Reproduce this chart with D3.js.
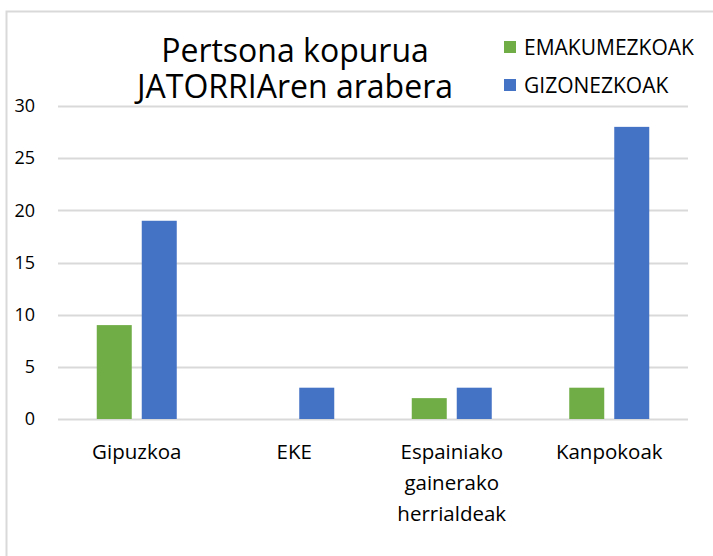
<!DOCTYPE html>
<html>
<head>
<meta charset="utf-8">
<script src="https://cdn.jsdelivr.net/npm/d3@7"></script>
<style>
  body { margin: 0; background: #fff; }
  svg text { font-family: "Open Sans", sans-serif; fill: #000; }
</style>
</head>
<body>
<svg id="chart" width="713" height="556"></svg>
<script>
const categories = [["Gipuzkoa"], ["EKE"], ["Espainiako", "gainerako", "herrialdeak"], ["Kanpokoak"]];
const seriesNames = ["EMAKUMEZKOAK", "GIZONEZKOAK"];
const emakumezkoak = [9, 0, 2, 3];
const gizonezkoak = [19, 3, 3, 28];
const yTicks = [0, 5, 10, 15, 20, 25, 30];
const titleLines = ["Pertsona kopurua", "JATORRIAren arabera"];
const colors = ["#70ad47", "#4472c4"];

(function () {
const svg = d3.select("#chart");
svg.append("rect").attr("x", 6.5).attr("y", 11.5).attr("width", 720).attr("height", 560)
  .attr("fill", "#fff").attr("stroke", "#d9d9d9").attr("stroke-width", 2);

const pLeft = 58, pRight = 688, pTop = 106, pBottom = 419;
const catKeys = categories.map(c => c.join(" "));
const x0 = d3.scaleBand().domain(catKeys).range([pLeft, pRight]).padding(0);
const inner = 80;
const off = (x0.bandwidth() - inner) / 2;
const x1 = d3.scaleBand().domain(seriesNames).range([off, off + inner]).paddingInner(2 - inner / 45);
const y = d3.scaleLinear().domain([0, 30]).range([pBottom, pTop]);

// gridlines
svg.append("g").selectAll("line").data(yTicks).join("line")
  .attr("x1", pLeft).attr("x2", pRight)
  .attr("y1", d => Math.round(y(d)) + 0.5).attr("y2", d => Math.round(y(d)) + 0.5)
  .attr("stroke", "#d9d9d9").attr("stroke-width", 2);

// y axis labels
const yAxis = d3.axisLeft(y).tickValues(yTicks).tickSize(0).tickPadding(0);
const gy = svg.append("g").attr("transform", "translate(35,0)").call(yAxis);
gy.select(".domain").remove();
gy.selectAll("text").attr("font-size", 18).style("font-family", "'Open Sans', sans-serif").attr("fill", "#000");

// bars
const data = catKeys.map((k, i) => ({ key: k, values: [emakumezkoak[i], gizonezkoak[i]] }));
const groups = svg.append("g").selectAll("g").data(data).join("g")
  .attr("transform", d => `translate(${x0(d.key)},0)`);
groups.selectAll("rect").data(d => d.values.map((v, j) => ({ s: seriesNames[j], v, j })))
  .join("rect")
  .attr("x", d => x1(d.s)).attr("width", x1.bandwidth())
  .attr("y", d => y(d.v)).attr("height", d => y(0) - y(d.v))
  .attr("fill", d => colors[d.j]);

// category labels
const cg = svg.append("g");
categories.forEach((lines, i) => {
  const cx = x0(catKeys[i]) + x0.bandwidth() / 2;
  const t = cg.append("text").attr("text-anchor", "middle").attr("font-size", 20.5)
    .attr("x", cx).attr("y", 459);
  lines.forEach((ln, j) => t.append("tspan").attr("x", cx)
    .attr("dy", j === 0 ? 0 : 31).text(ln));
});

// title
const tt = svg.append("text").attr("text-anchor", "middle").attr("font-size", 32).attr("x", 295).attr("y", 62);
titleLines.forEach((ln, j) => tt.append("tspan").attr("x", 295).attr("dy", j === 0 ? 0 : 36).text(ln));

// legend
const lg = svg.append("g").attr("transform", "translate(504,0)");
seriesNames.forEach((s, i) => {
  const cy = 47 + i * 38;
  lg.append("rect").attr("x", 0).attr("y", cy - 6).attr("width", 12).attr("height", 12).attr("fill", colors[i]);
  lg.append("text").attr("x", 20).attr("y", cy).attr("dy", "0.36em").attr("font-size", 21).text(s);
});
})();
</script>
</body>
</html>
